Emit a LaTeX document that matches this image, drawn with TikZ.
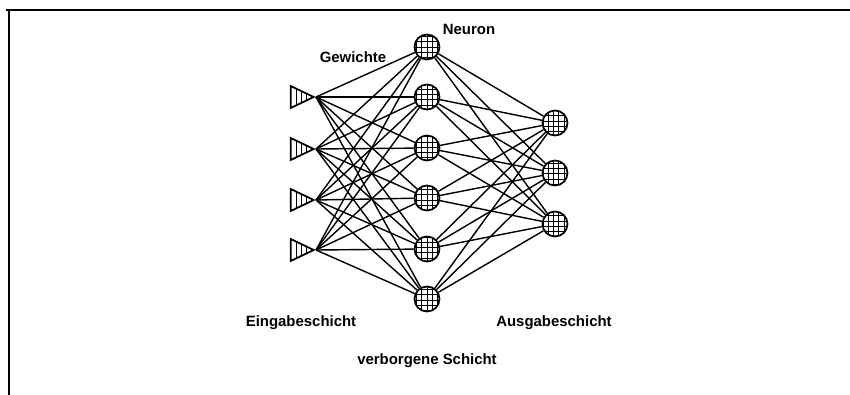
\documentclass[tikz,border=0pt]{standalone}
\usepackage{fontspec}
\setmainfont{Liberation Sans}
\usetikzlibrary{shapes.geometric,patterns}
\tikzset{
  neuron/.style  = {circle, draw, line width=1pt, preaction={fill=white}, pattern=grid, minimum size=0.5cm, inner sep=0},
  eingang/.style = {isosceles triangle, isosceles triangle stretches, draw, line width=1pt, preaction={fill=white}, pattern=vertical lines, minimum width=0.44cm, minimum height=0.46cm, inner sep=0, anchor=apex},
  gewicht/.style = {line width=0.8pt},
  rahmen/.style  = {line width=1.1pt},
  et/.style      = {font=\fontsize{8.5}{10}\selectfont\bfseries}
}

\begin{document}
\begin{tikzpicture}[x=0.02cm, y=-0.02cm]
  \useasboundingbox (0,0) rectangle (850,395);
  \draw[rahmen] (6,10) -- (850,10);
  \draw[rahmen] (9,10) -- (9,395);

  % Eingabeschicht
  \foreach \n/\y in {1/97, 2/149, 3/200, 4/250}
    \node[eingang] (i\n) at (316,\y) {};
  % verborgene Schicht
  \foreach \n/\y in {1/47, 2/97, 3/148, 4/198, 5/249, 6/299}
    \node[neuron] (h\n) at (427,\y) {};
  % Ausgabeschicht
  \foreach \n/\y in {1/123, 2/173, 3/224}
    \node[neuron] (o\n) at (555,\y) {};

  % Gewichte
  \foreach \i in {1,...,4}
    \foreach \h in {1,...,6}
      \draw[gewicht] (i\i.apex) -- (h\h);
  \foreach \h in {1,...,6}
    \foreach \o in {1,...,3}
      \draw[gewicht] (h\h) -- (o\o);

  \node[et] (neu) at (469,29) {Neuron};
  \node[et] (gew) at (353,57) {Gewichte};
  \node[et] (ein) at (301,323) {Eingabeschicht};
  \node[et] (aus) at (554,323) {Ausgabeschicht};
  \node[et] (ver) at (427,361) {verborgene Schicht};
\end{tikzpicture}
\end{document}
